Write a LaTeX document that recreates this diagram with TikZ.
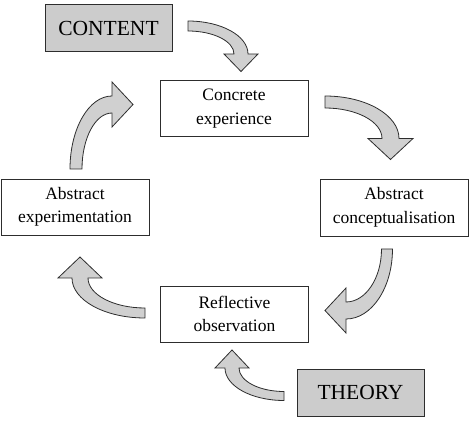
\documentclass[tikz,border=0pt]{standalone}
\usepackage{fontspec}
\setmainfont{Liberation Serif}
\definecolor{boxgray}{RGB}{204,204,204}
\definecolor{arrowgray}{RGB}{208,208,208}
\definecolor{edgegray}{RGB}{45,45,45}

% Curved block arrow along a quarter ellipse.
% #1,#2 centre; #3,#4 radii of the shaft's middle line; #5 start angle
% (the arrow turns through +90 degrees); #6 shaft width at the tail;
% #7 shaft width at the head; #8 half width of the head; #9 head length.
\newcommand\cyclearrow[9]{%
  \pgfmathsetmacro\arrE{#5+90}%
  \pgfmathsetmacro\arrWx{#6*cos(#5)^2+#7*sin(#5)^2}%
  \pgfmathsetmacro\arrWy{#6*sin(#5)^2+#7*cos(#5)^2}%
  \pgfmathsetmacro\arrOa{#3+\arrWx/2}\pgfmathsetmacro\arrOb{#4+\arrWy/2}%
  \pgfmathsetmacro\arrIa{#3-\arrWx/2}\pgfmathsetmacro\arrIb{#4-\arrWy/2}%
  \pgfmathsetmacro\arrSx{#1+\arrOa*cos(#5)}\pgfmathsetmacro\arrSy{#2+\arrOb*sin(#5)}%
  \pgfmathsetmacro\arrAx{#1+(#3+#8)*cos(\arrE)}\pgfmathsetmacro\arrAy{#2+(#4+#8)*sin(\arrE)}%
  \pgfmathsetmacro\arrBx{#1+(#3-#8)*cos(\arrE)}\pgfmathsetmacro\arrBy{#2+(#4-#8)*sin(\arrE)}%
  \pgfmathsetmacro\arrCx{#1+\arrIa*cos(\arrE)}\pgfmathsetmacro\arrCy{#2+\arrIb*sin(\arrE)}%
  \pgfmathsetmacro\arrTx{#1+#3*cos(\arrE)-#9*sin(\arrE)}%
  \pgfmathsetmacro\arrTy{#2+#4*sin(\arrE)+#9*cos(\arrE)}%
  \draw[blockarrow] (\arrSx,\arrSy)
    arc[start angle=#5, end angle=\arrE, x radius=\arrOa, y radius=\arrOb]
    -- (\arrAx,\arrAy) -- (\arrTx,\arrTy) -- (\arrBx,\arrBy) -- (\arrCx,\arrCy)
    arc[start angle=\arrE, end angle=#5, x radius=\arrIa, y radius=\arrIb]
    -- cycle;
}

\begin{document}
\begin{tikzpicture}[x=1pt,y=-1pt,
  stage/.style={draw=edgegray, line width=0.9pt, fill=white,
    minimum width=148pt, minimum height=56pt, inner sep=0pt, align=center,
    font=\fontsize{17.5}{23.5}\selectfont},
  source/.style={draw=edgegray, line width=0.9pt, fill=boxgray,
    minimum width=127pt, minimum height=47pt, inner sep=0pt,
    font=\fontsize{21.5}{26}\selectfont},
  blockarrow/.style={draw=edgegray, line width=0.8pt, fill=arrowgray, line join=miter}]
\useasboundingbox (0,0) rectangle (472,422);

% stages of the cycle
\node[stage] (concrete) at (234,108.5) {Concrete\\experience};
\node[stage, minimum height=57pt] (conceptual) at (394,207.5) {Abstract\\conceptualisation};
\node[stage] (reflective) at (234.5,314) {Reflective\\observation};
\node[stage] (experiment) at (75,207) {Abstract\\experimentation};

% inputs
\node[source] (content) at (108.5,28) {CONTENT};
\node[source] (theory) at (360.5,392.5) {THEORY};

% curved arrows between them
\cyclearrow{188}{54}{53}{28}{270}{10}{14}{17}{17.5}
\cyclearrow{325}{138.5}{65.5}{36.5}{270}{12}{17}{22.5}{21}
\cyclearrow{346}{249}{41}{61.5}{0}{11}{17}{22.5}{21}
\cyclearrow{284}{368}{52}{28}{90}{9}{14}{17}{18}
\cyclearrow{145}{278}{65}{35}{90}{10}{16}{22}{21}
\cyclearrow{112}{169}{36}{64.5}{180}{12}{17}{22.5}{21}
\end{tikzpicture}
\end{document}
